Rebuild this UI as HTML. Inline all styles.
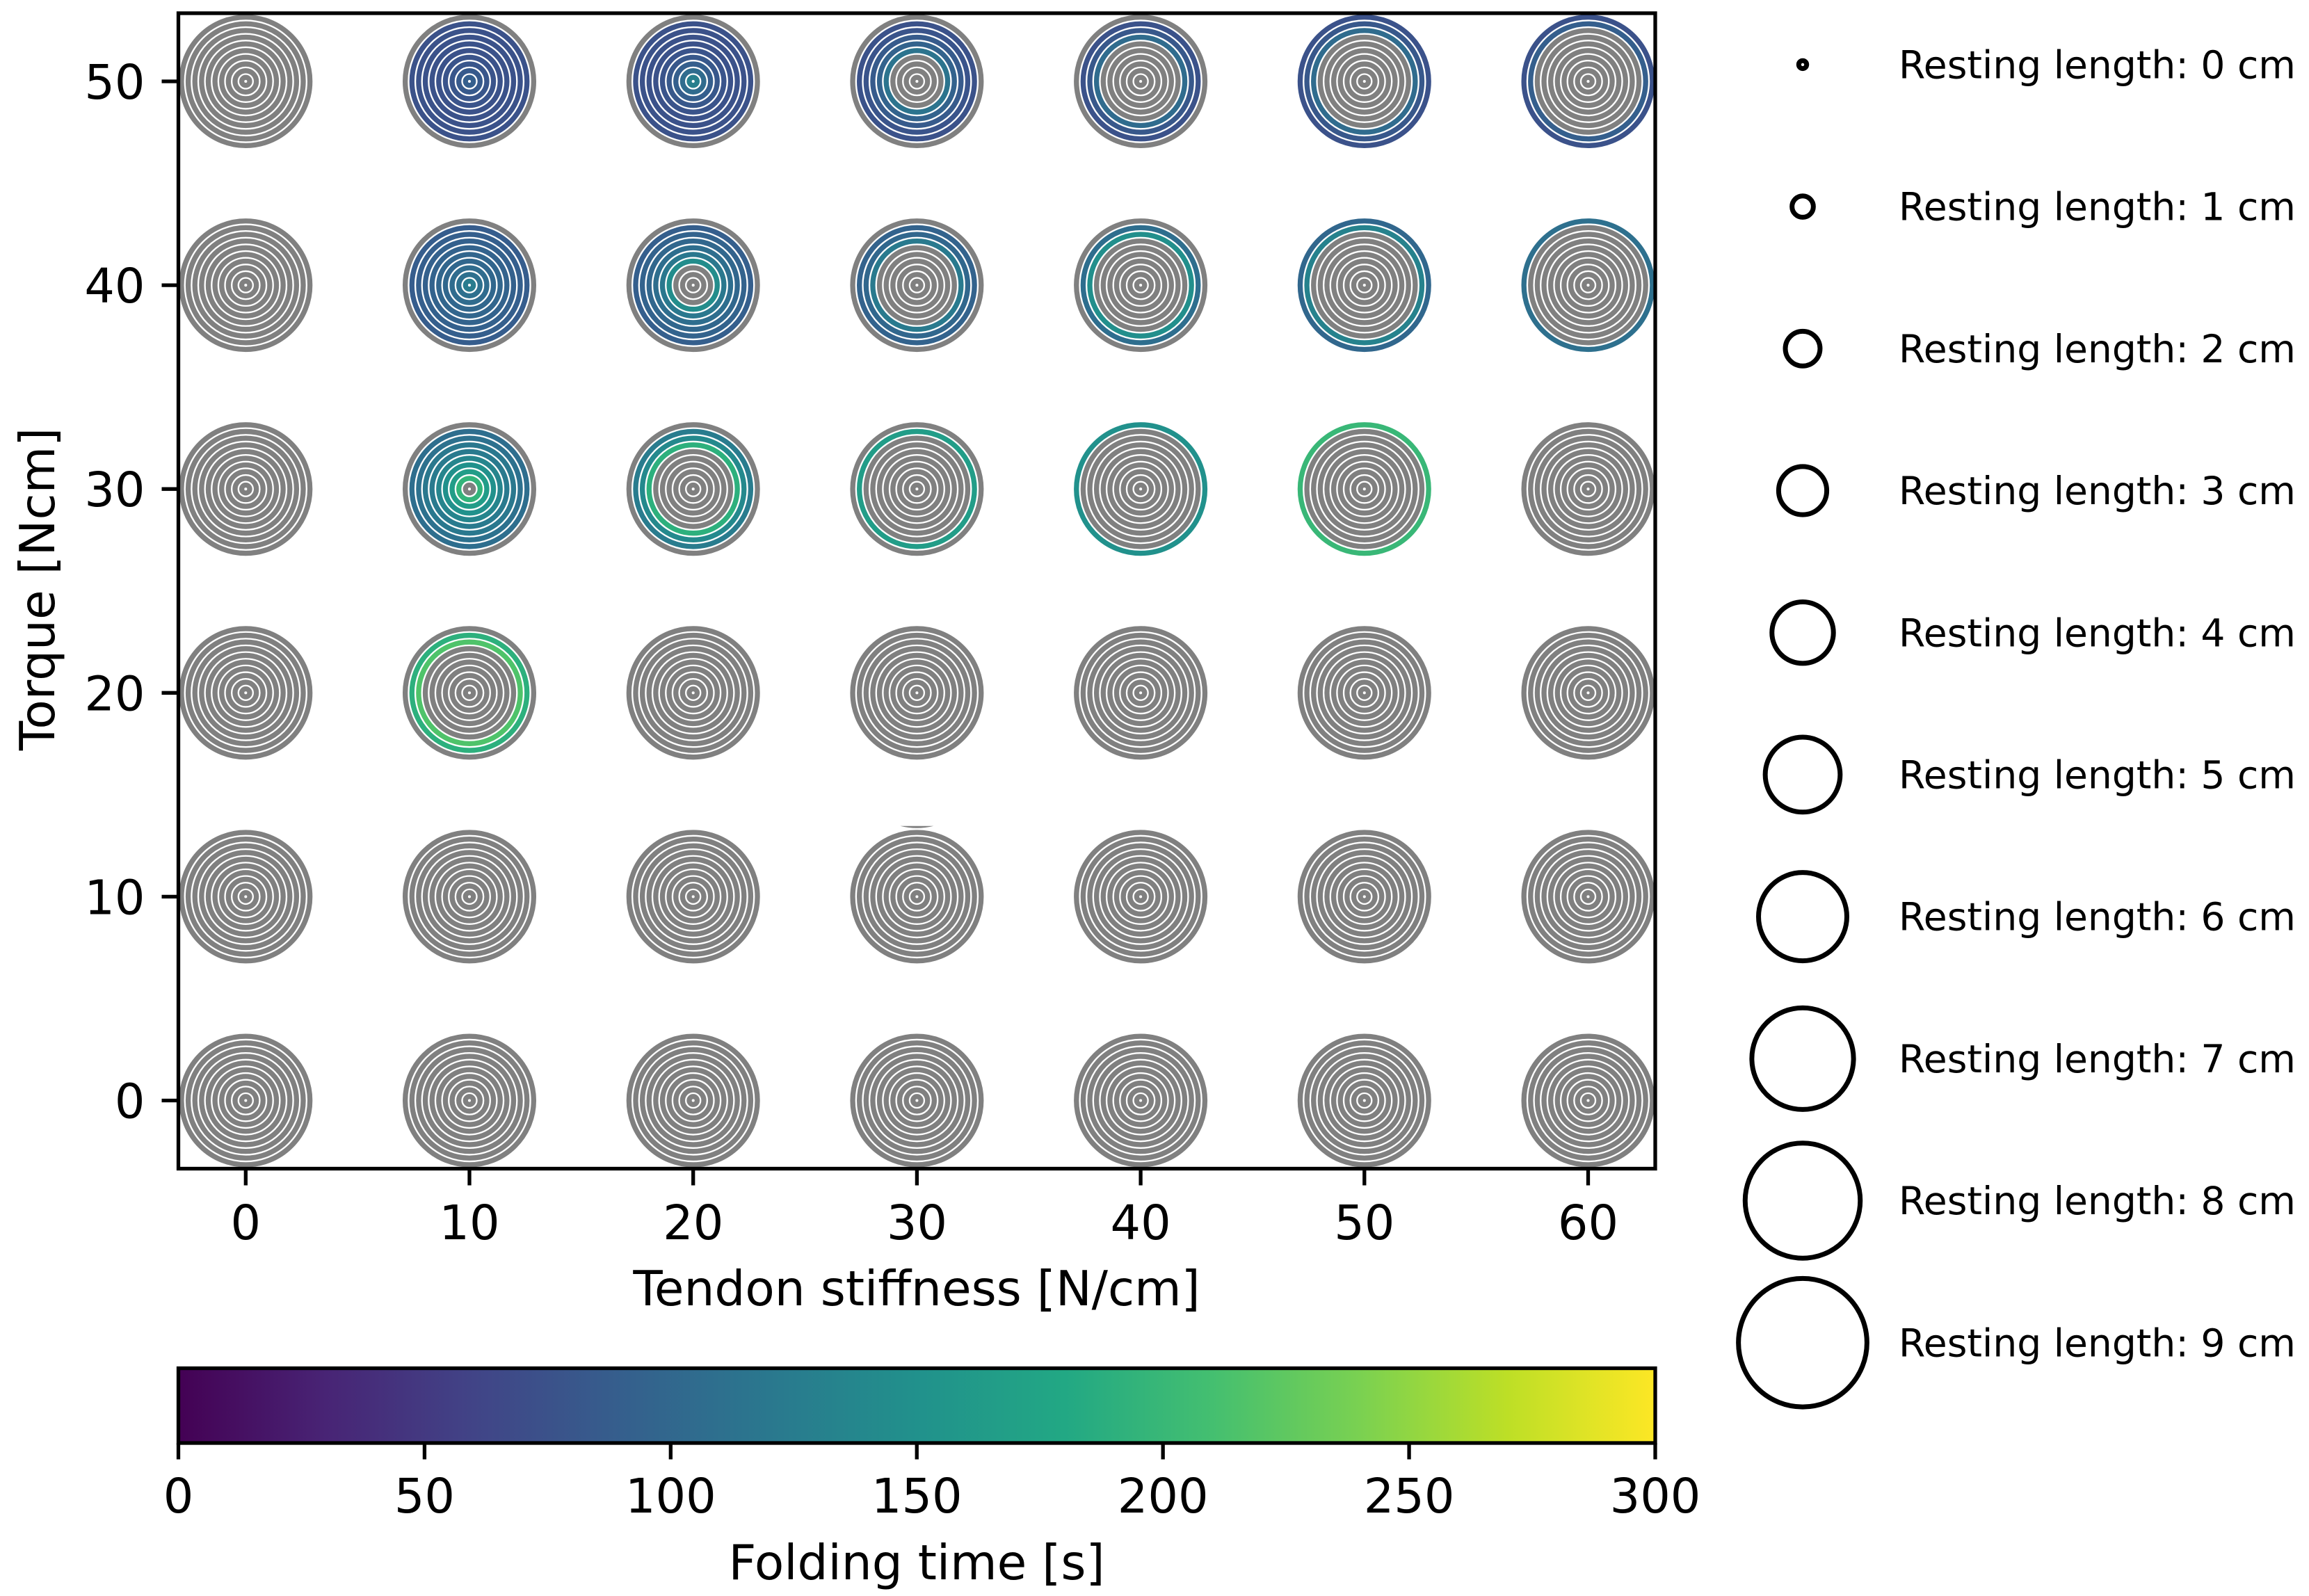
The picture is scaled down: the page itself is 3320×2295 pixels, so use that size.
<!DOCTYPE html>
<html lang="en">
<head>
<meta charset="utf-8">
<title>Folding time by tendon stiffness, torque and resting length</title>
<style>
html,body{margin:0;padding:0;background:#fff;}
svg{display:block;}
text{font-family:"DejaVu Sans","Liberation Sans",sans-serif;fill:#000;}
</style>
</head>
<body>
<svg id="chart" xmlns="http://www.w3.org/2000/svg" width="3320" height="2295" viewBox="0 0 3320 2295">
  <defs>
    <clipPath id="axes-clip"><rect x="256.5" y="19" width="2123.5" height="1661.5"/></clipPath>
    <linearGradient id="viridis-gradient" x1="0" x2="1" y1="0" y2="0"></linearGradient>
  </defs>
  <rect x="0" y="0" width="3320" height="2295" fill="#fff"/>
  <g id="rings" clip-path="url(#axes-clip)"></g>
  <rect x="256.5" y="19" width="2123.5" height="1661.5" fill="none" stroke="#000" stroke-width="5.3"/>
  <g id="x-ticks"></g>
  <g id="y-ticks"></g>
  <text x="1318" y="1877" font-size="69.3" text-anchor="middle">Tendon stiffness [N/cm]</text>
  <text x="78" y="847" font-size="69.3" text-anchor="middle" transform="rotate(-90 78 847)">Torque [Ncm]</text>
  <rect x="256.5" y="1967.5" width="2123.5" height="107.5" fill="url(#viridis-gradient)"/>
  <rect x="256.5" y="1967.5" width="2123.5" height="107.5" fill="none" stroke="#000" stroke-width="5.3"/>
  <g id="cbar-ticks"></g>
  <text x="1318" y="2271" font-size="69.3" text-anchor="middle">Folding time [s]</text>
  <g id="legend"></g>
</svg>
<script>
// ---- Data ----
const stiffnesses = [0, 10, 20, 30, 40, 50, 60];
const torques = [0, 10, 20, 30, 40, 50];
const restingLengths = [0, 1, 2, 3, 4, 5, 6, 7, 8, 9];
const xTickLabels = ["0", "10", "20", "30", "40", "50", "60"];
const yTickLabels = ["0", "10", "20", "30", "40", "50"];
const colorbarTicks = [0, 50, 100, 150, 200, 250, 300];
const _ = null; // no successful fold: drawn gray

// Folding time [s], one row per resting length 0..9
const none = [_, _, _, _, _, _, _, _, _, _];

const torque50k10 = [90, 84, 80, 78, 76, 76, 75, 75, 75, _];
const torque50k20 = [128, 105, 90, 82, 78, 76, 76, 75, 75, _];
const torque50k30 = [_, _, _, _, 115, 95, 85, 78, 75, _];
const torque50k40 = [_, _, _, _, _, _, 105, 82, 75, _];
const torque50k50 = [_, _, _, _, _, _, _, 105, 82, 76];
const torque50k60 = [_, _, _, _, _, _, _, _, 90, 76];

const torque40k10 = [125, 110, 105, 100, 98, 95, 92, 90, 88, _];
const torque40k20 = [_, _, _, 145, 120, 108, 100, 95, 90, _];
const torque40k30 = [_, _, _, _, _, _, 122, 100, 95, _];
const torque40k40 = [_, _, _, _, _, _, _, 148, 108, _];
const torque40k50 = [_, _, _, _, _, _, _, _, 132, 100];
const torque40k60 = [_, _, _, _, _, _, _, _, _, 110];

const torque30k10 = [_, 195, 165, 150, 135, 122, 120, 112, 108, _];
const torque30k20 = [_, _, _, _, _, _, 190, 140, 125, _];
const torque30k30 = [_, _, _, _, _, _, _, _, 165, _];
const torque30k40 = [_, _, _, _, _, _, _, _, _, 150];
const torque30k50 = [_, _, _, _, _, _, _, _, _, 200];

const torque20k10 = [_, _, _, _, _, _, _, 216, 190, _];

// One row per torque (matching `torques`), one entry per stiffness (matching `stiffnesses`)
const rowTorque0  = [none, none, none, none, none, none, none];
const rowTorque10 = [none, none, none, none, none, none, none];
const rowTorque20 = [none, torque20k10, none, none, none, none, none];
const rowTorque30 = [none, torque30k10, torque30k20, torque30k30, torque30k40, torque30k50, none];
const rowTorque40 = [none, torque40k10, torque40k20, torque40k30, torque40k40, torque40k50, torque40k60];
const rowTorque50 = [none, torque50k10, torque50k20, torque50k30, torque50k40, torque50k50, torque50k60];
const foldingTimes = [rowTorque0, rowTorque10, rowTorque20, rowTorque30, rowTorque40, rowTorque50];

// ---- Colormap ----
const viridisStops = ["#440154", "#482475", "#414487", "#355f8d", "#2a788e", "#21918c", "#22a884", "#44bf70", "#7ad151", "#bddf26", "#fde725"];
const colorMax = 300;

function hexToRgb(h) {
  return [parseInt(h.slice(1, 3), 16), parseInt(h.slice(3, 5), 16), parseInt(h.slice(5, 7), 16)];
}
function viridis(value) {
  const t = Math.max(0, Math.min(1, value / colorMax)) * (viridisStops.length - 1);
  const i = Math.min(Math.floor(t), viridisStops.length - 2);
  const f = t - i;
  const a = hexToRgb(viridisStops[i]);
  const b = hexToRgb(viridisStops[i + 1]);
  return "rgb(" + a.map(function (c, n) { return Math.round(c + (b[n] - c) * f); }).join(",") + ")";
}

// ---- Axis functions ----
function xScale(v) { return 353.3 + 32.17 * v; }
function yScale(v) { return 1582.5 - 29.31 * v; }
function cbarScale(v) { return 256.5 + (2380 - 256.5) * v / colorMax; }
function ringRadius(len) { return 5.7 + 9.63 * len; }
function legendY(i) { return 92.9 + 204.2 * i; }

const SVGNS = "http://www.w3.org/2000/svg";
function make(tag, parent, props) {
  const e = document.createElementNS(SVGNS, tag);
  for (const k in props) { e.setAttribute(k, props[k]); }
  parent.appendChild(e);
  return e;
}

// Colorbar gradient
const gradient = document.getElementById("viridis-gradient");
viridisStops.forEach(function (c, i) {
  make("stop", gradient, { offset: i / (viridisStops.length - 1), "stop-color": c });
});

// Rings
const ringsGroup = document.getElementById("rings");
torques.forEach(function (torque, ti) {
  stiffnesses.forEach(function (stiff, si) {
    const cell = make("g", ringsGroup, {});
    
    
    restingLengths.forEach(function (len, li) {
      const v = foldingTimes[ti][si][li];
      const ring = make("circle", cell, {
        cx: xScale(stiff),
        cy: yScale(torque),
        r: ringRadius(len),
        fill: "none",
        stroke: v === null ? "#808080" : viridis(v),
        "stroke-width": 7.3
      });
      
      
    });
  });
});

// Small stray sliver above the cell at stiffness 30, torque 10
const sliverX = xScale(30);
const sliverY = yScale(10) - 101.7;
const sliver = make("path", ringsGroup, {
  d: "M" + (sliverX - 24) + " " + sliverY + " Q" + sliverX + " " + (sliverY + 6) + " " + (sliverX + 24) + " " + sliverY + " Z",
  fill: "#808080"
});



// X ticks
const xTicksGroup = document.getElementById("x-ticks");
stiffnesses.forEach(function (v, i) {
  const tick = make("line", xTicksGroup, { x1: xScale(v), x2: xScale(v), y1: 1680.5, y2: 1704.5, stroke: "#000", "stroke-width": 5.3 });
  
  
  const label = make("text", xTicksGroup, { x: xScale(v), y: 1782, "font-size": 68.5, "text-anchor": "middle" });
  label.textContent = xTickLabels[i];
  
  
});

// Y ticks
const yTicksGroup = document.getElementById("y-ticks");
torques.forEach(function (v, i) {
  const tick = make("line", yTicksGroup, { x1: 232.5, x2: 256.5, y1: yScale(v), y2: yScale(v), stroke: "#000", "stroke-width": 5.3 });
  
  
  const label = make("text", yTicksGroup, { x: 208.5, y: yScale(v) + 25, "font-size": 68.5, "text-anchor": "end" });
  label.textContent = yTickLabels[i];
  
  
});

// Colorbar ticks
const cbarGroup = document.getElementById("cbar-ticks");
colorbarTicks.forEach(function (v) {
  const tick = make("line", cbarGroup, { x1: cbarScale(v), x2: cbarScale(v), y1: 2075, y2: 2098.5, stroke: "#000", "stroke-width": 5.3 });
  
  
  const label = make("text", cbarGroup, { x: cbarScale(v), y: 2175, "font-size": 68.5, "text-anchor": "middle" });
  label.textContent = String(v);
  
  
});

// Legend
const legendGroup = document.getElementById("legend");
restingLengths.forEach(function (len, i) {
  const entry = make("g", legendGroup, {});
  
  
  const marker = make("circle", entry, { cx: 2592, cy: legendY(i), r: ringRadius(len), fill: "none", stroke: "#000", "stroke-width": 7 });
  
  
  const text = make("text", entry, { x: 2730, y: legendY(i) + 19.6, "font-size": 55.1 });
  text.textContent = "Resting length: " + len + " cm";
  
  
});
</script>
</body>
</html>
